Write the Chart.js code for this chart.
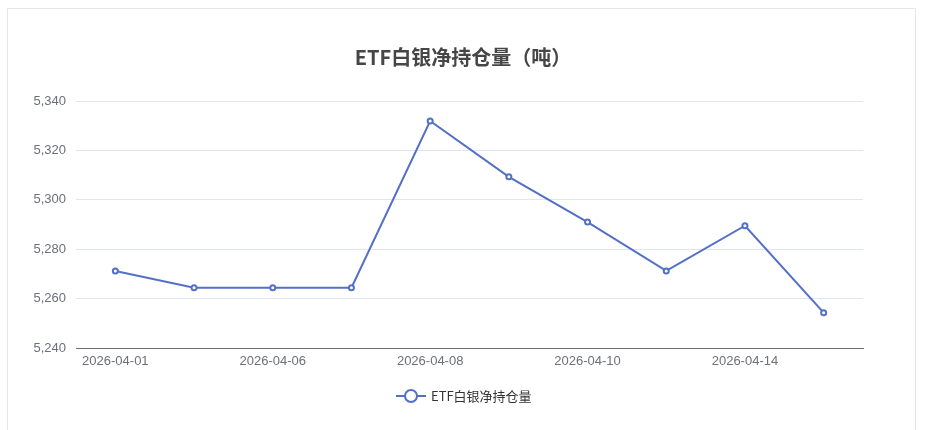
<!DOCTYPE html>
<html><head><meta charset="utf-8">
<script src="https://cdn.jsdelivr.net/npm/chart.js@4/dist/chart.umd.min.js"></script>
<style>
body{margin:0;width:926px;height:430px;background:#fff;font-family:"Microsoft YaHei","Noto Sans CJK SC",sans-serif;overflow:hidden}
#frame{position:absolute;left:7px;top:8px;width:909px;height:430px;border:1px solid #e6e6e6;box-sizing:border-box}
#c{position:absolute;left:0;top:0;clip-path:inset(0 0 0 33px)}
#title{position:absolute;left:0;width:926px;top:42px;text-align:center;font-size:20px;font-weight:bold;color:#464646}
#legend{position:absolute;top:386px;left:395px;font-size:13px;color:#333;display:flex;align-items:center}
</style></head><body>
<div id="frame"></div>
<canvas id="c" width="926" height="430"></canvas>
<div id="title">ETF白银净持仓量（吨）</div>
<div id="legend"><svg width="32" height="16"><line x1="1" y1="8" x2="31" y2="8" stroke="#5470c6" stroke-width="2"/><circle cx="16" cy="8" r="6" fill="#fff" stroke="#5470c6" stroke-width="2"/></svg><span style="margin-left:4px">ETF白银净持仓量</span></div>
<script>
const categories=["2026-04-01","2026-04-03","2026-04-06","2026-04-07","2026-04-08","2026-04-09","2026-04-10","2026-04-13","2026-04-14","2026-04-15"];
const values=[5271.2,5264.4,5264.4,5264.4,5331.9,5309.3,5291.0,5271.2,5289.5,5254.3];
const seriesName="ETF白银净持仓量";
new Chart(document.getElementById('c'),{type:'line',
data:{labels:categories,datasets:[{label:seriesName,data:values,borderColor:'#5470c6',borderWidth:2,pointRadius:2.5,pointBorderWidth:2,pointBackgroundColor:'#fff',pointBorderColor:'#5470c6',tension:0}]},
options:{responsive:false,animation:false,layout:{padding:{left:0,right:63,top:101,bottom:0}},
plugins:{legend:{display:false},title:{display:false},tooltip:{enabled:false}},
scales:{
x:{offset:true,grid:{display:false,drawTicks:false},border:{color:'#6e7079'},
ticks:{autoSkip:false,maxRotation:0,color:'#6e7079',font:{size:13},padding:6,callback:function(v,i){return i%2===0?categories[i]:'';}},
afterFit:s=>{s.height=82;}},
y:{min:5240,max:5340,grid:{color:'#e0e6f1',drawTicks:false},border:{display:false},
ticks:{stepSize:20,color:'#6e7079',font:{size:13},padding:10,callback:v=>v.toLocaleString('en-US')},
afterFit:s=>{s.width=76;}}}}});
</script></body></html>
